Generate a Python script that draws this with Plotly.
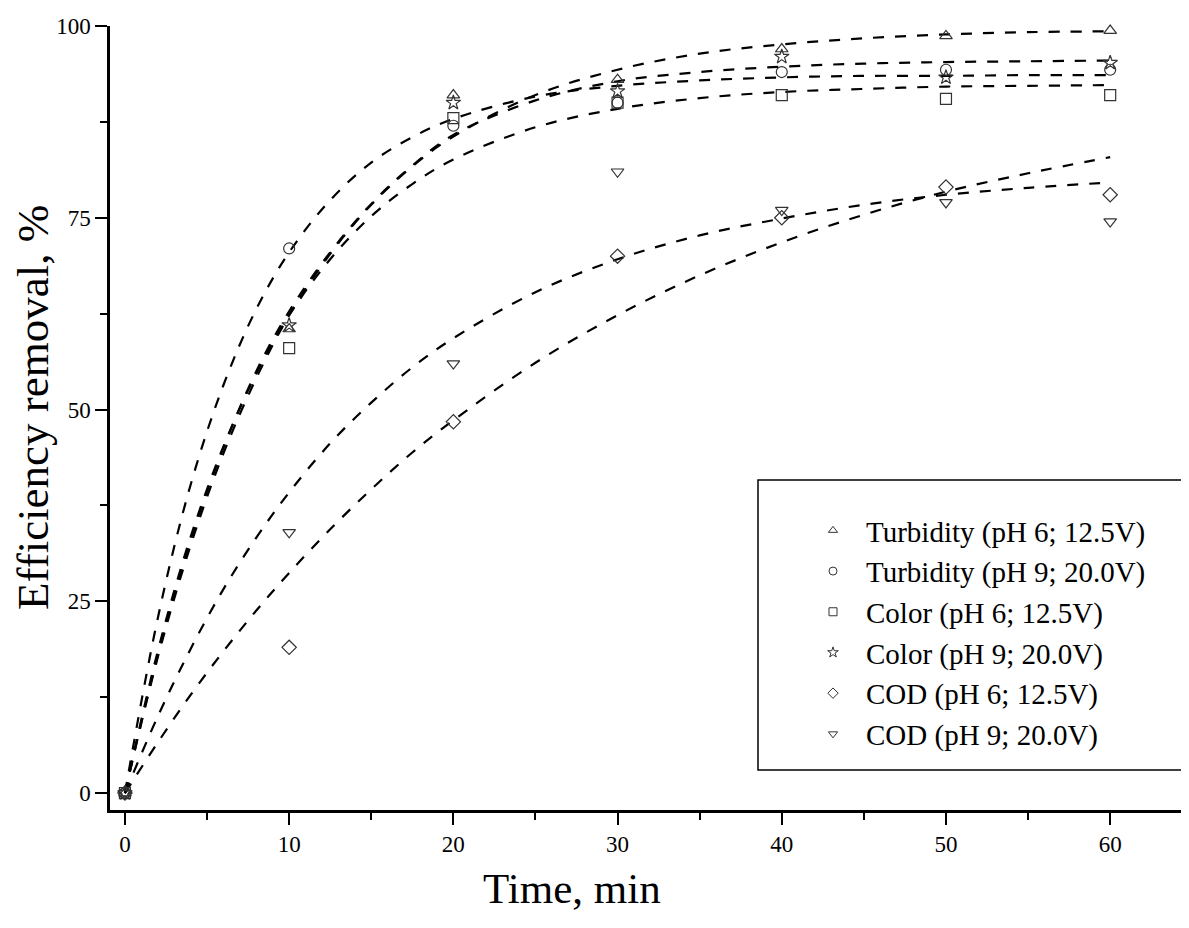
import plotly.graph_objects as go

# Measured points
time_min = [0, 10, 20, 30, 40, 50, 60]
turb_ph6 = [0, 60.5, 91, 93, 97, 98.7, 99.4]
turb_ph9 = [0, 71, 87, 90, 94, 94.3, 94.3]
color_ph6 = [0, 58, 88, 90, 91, 90.5, 91]
color_ph9 = [0, 61, 90, 91.5, 96, 93.3, 95.2]
cod_ph6 = [0, 19, 48.4, 70, 75, 79, 78]
cod_ph9 = [0, 34, 56, 81, 76, 77, 74.5]

# Fitted (dashed) curves
fit_t = [0, 2, 4, 6, 8, 10, 12.5, 15, 17.5, 20, 25, 30, 35, 40, 45, 50, 55, 60]
fit_turb_ph6 = [0, 17.7, 32.3, 44.3, 54.1, 62.3, 70.3, 76.7, 81.7, 85.6, 91.0, 94.3, 96.4, 97.6, 98.4, 98.9, 99.2, 99.3]
fit_turb_ph9 = [0, 22.8, 40.2, 53.2, 63.1, 70.5, 77.3, 82.2, 85.5, 87.9, 90.8, 92.2, 92.9, 93.3, 93.5, 93.5, 93.6, 93.6]
fit_color_ph6 = [0, 18.5, 33.4, 45.2, 54.7, 62.3, 69.6, 75.2, 79.4, 82.6, 86.8, 89.2, 90.6, 91.4, 91.8, 92.1, 92.2, 92.3]
fit_color_ph9 = [0, 18.0, 33.0, 45.0, 55.0, 62.8, 70.5, 76.8, 81.8, 85.8, 90.3, 92.8, 94.0, 94.7, 95.1, 95.3, 95.4, 95.5]
fit_cod_ph6 = [0, 6.6, 12.8, 18.5, 23.8, 28.7, 34.4, 39.6, 44.4, 48.6, 56.1, 62.3, 67.5, 71.8, 75.4, 78.4, 80.8, 82.9]
fit_cod_ph9 = [0, 10.0, 18.8, 26.6, 33.3, 39.2, 45.6, 50.9, 55.5, 59.3, 65.3, 69.6, 72.7, 74.9, 76.7, 78.0, 78.9, 79.6]

labels = ["Turbidity (pH 6; 12.5V)", "Turbidity (pH 9; 20.0V)", "Color (pH 6; 12.5V)",
          "Color (pH 9; 20.0V)", "COD (pH 6; 12.5V)", "COD (pH 9; 20.0V)"]
symbols = ["triangle-up-open", "circle-open", "square-open", "star-open", "diamond-open", "triangle-down-open"]
series = [turb_ph6, turb_ph9, color_ph6, color_ph9, cod_ph6, cod_ph9]
fits = [fit_turb_ph6, fit_turb_ph9, fit_color_ph6, fit_color_ph9, fit_cod_ph6, fit_cod_ph9]

SERIF = "Liberation Serif, Times New Roman, serif"
MK = "#333333"

# page offset of the figure (browser body margin)
OFF = 8
W, H = 1181, 920
PL, PR, PT, PB = 110, 1189, 26, 810   # plot area in page pixels
pw, ph = PR - PL, PB - PT


def px(xp):
    return (xp - PL) / pw


def py(yp):
    return (PB - yp) / ph


fig = go.Figure()

for f in fits:
    fig.add_trace(go.Scatter(x=fit_t, y=f, mode="lines", showlegend=False, hoverinfo="skip",
                             line=dict(color="black", width=2.2, dash="11px,11px", shape="spline")))

for lab, sym, s in zip(labels, symbols, series):
    fig.add_trace(go.Scatter(x=time_min, y=s, mode="markers", name=lab, cliponaxis=False,
                             showlegend=False,
                             marker=dict(symbol=sym, size=11, color=MK, line=dict(color=MK, width=1.2))))

# legend entries (smaller symbols as in the reference)
for lab, sym in zip(labels, symbols):
    fig.add_trace(go.Scatter(x=[None], y=[None], mode="markers", name=lab,
                             marker=dict(symbol=sym, size=8, color=MK, line=dict(color=MK, width=1))))

fig.update_layout(
    width=W, height=H,
    margin=dict(l=PL - OFF, r=W - (PR - OFF), t=PT - OFF, b=H - (PB - OFF)),
    paper_bgcolor="white", plot_bgcolor="white",
    font=dict(family=SERIF, color="black"),
    showlegend=True,
    legend=dict(x=px(800), xanchor="left", y=py(505), yanchor="top",
                xref="paper", yref="paper",
                font=dict(family=SERIF, size=29, color="black"),
                bgcolor="rgba(0,0,0,0)", borderwidth=0, itemwidth=56,
                tracegroupgap=0),
    xaxis=dict(range=[-0.91, 64.8], showline=True, linecolor="black", linewidth=2.5,
               showgrid=False, zeroline=False, tickmode="array",
               tickvals=[0, 10, 20, 30, 40, 50, 60], ticks="outside", ticklen=12,
               tickwidth=2, tickcolor="black",
               tickfont=dict(family=SERIF, size=23, color="black"),
               minor=dict(tickvals=[5, 15, 25, 35, 45, 55, 65], ticks="outside",
                          ticklen=7, tickwidth=2, tickcolor="black")),
    yaxis=dict(range=[-2.2, 100], showline=True, linecolor="black", linewidth=2.5,
               showgrid=False, zeroline=False, tickmode="array",
               tickvals=[0, 25, 50, 75, 100], ticks="outside", ticklen=12,
               tickwidth=2, tickcolor="black",
               tickfont=dict(family=SERIF, size=23, color="black"),
               minor=dict(tickvals=[12.5, 37.5, 62.5, 87.5], ticks="outside",
                          ticklen=7, tickwidth=2, tickcolor="black")),
)

# legend frame
fig.add_shape(type="rect", xref="paper", yref="paper",
              x0=px(758), x1=px(1184), y0=py(770), y1=py(480),
              line=dict(color="black", width=1.5), fillcolor="rgba(0,0,0,0)", layer="above")

fig.add_annotation(text="Time, min", xref="paper", yref="paper",
                   x=px(572), y=py(888), xanchor="center", yanchor="middle",
                   showarrow=False, font=dict(family=SERIF, size=43, color="black"))
fig.add_annotation(text="Efficiency removal, %", xref="paper", yref="paper",
                   x=px(33), y=py(408), xanchor="center", yanchor="middle",
                   textangle=-90, showarrow=False, font=dict(family=SERIF, size=45, color="black"))

fig.write_html("out.html")
